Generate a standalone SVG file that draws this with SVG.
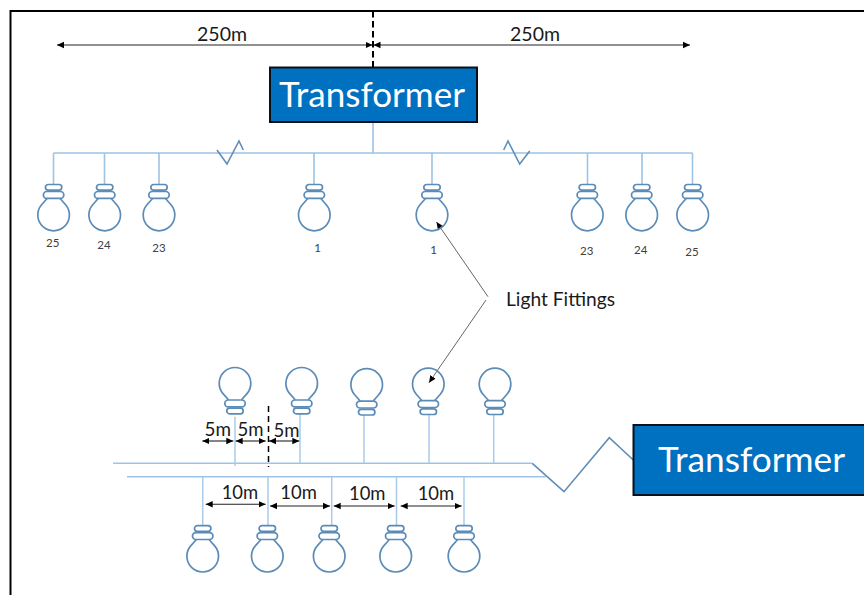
<svg xmlns="http://www.w3.org/2000/svg" width="864" height="595" viewBox="0 0 864 595">
<style>
text{font-family:"Lato","Open Sans","Liberation Sans",sans-serif}
.wire{fill:none;stroke:#9dc3e6;stroke-width:1.6}
.wire2{fill:none;stroke:#a9cbea;stroke-width:1.5}
.zig{fill:none;stroke:#5f8db8;stroke-width:1.6}
.bulb{fill:none;stroke:#5b8cb8;stroke-width:1.7}
.dim{fill:none;stroke:#222;stroke-width:1.1;marker-start:url(#a);marker-end:url(#a)}
.lead{fill:none;stroke:#555;stroke-width:.9;marker-end:url(#a)}
.dash{fill:none;stroke:#000}
.box{fill:#0070c0;stroke:#0b1118;stroke-width:2}
.tf{fill:#fff;font-size:34px}
.lab{fill:#1a1a1a;font-size:20px}
.lab2{fill:#1a1a1a;font-size:19px}
.num{fill:#404040;font-size:11.500px;text-anchor:middle}
</style>
<defs>
<marker id="a" markerUnits="userSpaceOnUse" markerWidth="8" markerHeight="8" refX="7" refY="4" orient="auto-start-reverse"><path d="M0,.8L7,4L0,7.2Z" fill="#000"/></marker>
<g id="b" class="bulb">
<rect x="-8.2" y="0" width="16.4" height="5.6" rx="2.8"/>
<rect x="-10.2" y="7" width="20.4" height="6.8" rx="3.4"/>
<path d="M-6.500,14L-12,20.200A15.800,15.800 0 1 0 12,20.200L6.500,14"/>
</g>
</defs>
<path d="M10.500,595V11H864" fill="none" stroke="#000" stroke-width="2"/>
<g id="connectors">
<path class="wire" d="M53.500,153H692.500M373,122V153M53.500,153V184M104.500,153V184M159,153V184M314,153V184M432,153V184M587.500,153V184M642,153V184M692.500,153V184"/>
<path class="zig" d="M217,150L227,164L239,141L243.300,150"/>
<path class="zig" d="M503.700,150L508,141L519.700,164L529.700,151"/>
<path class="wire" d="M113,463.300H532.300M127,476.700H545.700"/>
<path class="wire2" d="M235,416.700V466M300,414V463M364,415V463M429,415V463M493.700,415V463M202.700,476.700V526M268,476.700V526M331.700,476.700V526M396.500,476.700V526M464,476.700V526"/>
<path class="zig" d="M532.300,463.300L564,491.700L609.300,437.700L633.300,460"/>
<path class="dim" d="M57,45H372.500"/>
<path class="dim" d="M373.500,45H690"/>
<path class="dash" stroke-width="2" stroke-dasharray="6.500 3.500" d="M373,11V72"/>
<path class="dim" d="M202.300,441H233.300"/>
<path class="dim" d="M235.700,441H265.700"/>
<path class="dim" d="M269,441H299.300"/>
<path class="dash" stroke-width="1.500" stroke-dasharray="6 4" d="M268.500,406V467"/>
<path class="dim" d="M205.700,504.300H265.700"/>
<path class="dim" d="M270,506H330"/>
<path class="dim" d="M333.700,506H394.700"/>
<path class="dim" d="M400.700,506H461.700"/>
<path class="lead" d="M488,296.700L436.500,222"/>
<path class="lead" d="M486,300L429,382.700"/>
</g>
<g id="bulb-t1"><use href="#b" x="53.600" y="184.500"/></g>
<g id="bulb-t2"><use href="#b" x="104.700" y="184.500"/></g>
<g id="bulb-t3"><use href="#b" x="159" y="184.500"/></g>
<g id="bulb-t4"><use href="#b" x="314.300" y="184.500"/></g>
<g id="bulb-t5"><use href="#b" x="432" y="184.500"/></g>
<g id="bulb-t6"><use href="#b" x="587.300" y="184.500"/></g>
<g id="bulb-t7"><use href="#b" x="641.700" y="184.500"/></g>
<g id="bulb-t8"><use href="#b" x="692.700" y="184.500"/></g>
<g id="bulb-u1"><use href="#b" transform="translate(235,413.800) scale(1,-1)"/></g>
<g id="bulb-u2"><use href="#b" transform="translate(301.700,413.800) scale(1,-1)"/></g>
<g id="bulb-u3"><use href="#b" transform="translate(366.700,415) scale(1,-1)"/></g>
<g id="bulb-u4"><use href="#b" transform="translate(428.300,414.500) scale(1,-1)"/></g>
<g id="bulb-u5"><use href="#b" transform="translate(495,414.500) scale(1,-1)"/></g>
<g id="bulb-d1"><use href="#b" x="202.700" y="525.700"/></g>
<g id="bulb-d2"><use href="#b" x="267.300" y="525.700"/></g>
<g id="bulb-d3"><use href="#b" x="329.200" y="525.700"/></g>
<g id="bulb-d4"><use href="#b" x="395.700" y="525.700"/></g>
<g id="bulb-d5"><use href="#b" x="464" y="525.700"/></g>
<g id="transformer-top">
<rect class="box" x="270" y="67.500" width="207" height="54.500"/>
<text class="tf" x="279" y="107" textLength="186" lengthAdjust="spacingAndGlyphs">Transformer</text>
</g>
<g id="transformer-right">
<rect class="box" x="633.500" y="425" width="240" height="70"/>
<text class="tf" x="658" y="472" textLength="187" lengthAdjust="spacingAndGlyphs">Transformer</text>
</g>
<g id="labels">
<text class="lab" x="197" y="41" textLength="50" lengthAdjust="spacingAndGlyphs">250m</text>
<text class="lab" x="510" y="41" textLength="50" lengthAdjust="spacingAndGlyphs">250m</text>
<text class="num" x="52.700" y="247">25</text>
<text class="num" x="104" y="249">24</text>
<text class="num" x="159" y="251.500">23</text>
<text class="num" x="317.500" y="252">1</text>
<text class="num" x="433.500" y="254">1</text>
<text class="num" x="586.700" y="255">23</text>
<text class="num" x="640.700" y="254">24</text>
<text class="num" x="692" y="256">25</text>
<text class="lab2" x="506" y="306" textLength="109" lengthAdjust="spacingAndGlyphs">Light Fittings</text>
<text class="lab" x="204.500" y="435.700" textLength="26.500" lengthAdjust="spacingAndGlyphs">5m</text>
<text class="lab" x="237.500" y="435.700" textLength="26" lengthAdjust="spacingAndGlyphs">5m</text>
<text class="lab" x="273.500" y="437.300" textLength="26" lengthAdjust="spacingAndGlyphs">5m</text>
<text class="lab" x="221.700" y="499.300" textLength="36.500" lengthAdjust="spacingAndGlyphs">10m</text>
<text class="lab" x="280.300" y="499" textLength="36.500" lengthAdjust="spacingAndGlyphs">10m</text>
<text class="lab" x="349" y="500" textLength="36.500" lengthAdjust="spacingAndGlyphs">10m</text>
<text class="lab" x="417.700" y="500" textLength="36.500" lengthAdjust="spacingAndGlyphs">10m</text>
</g>
</svg>
